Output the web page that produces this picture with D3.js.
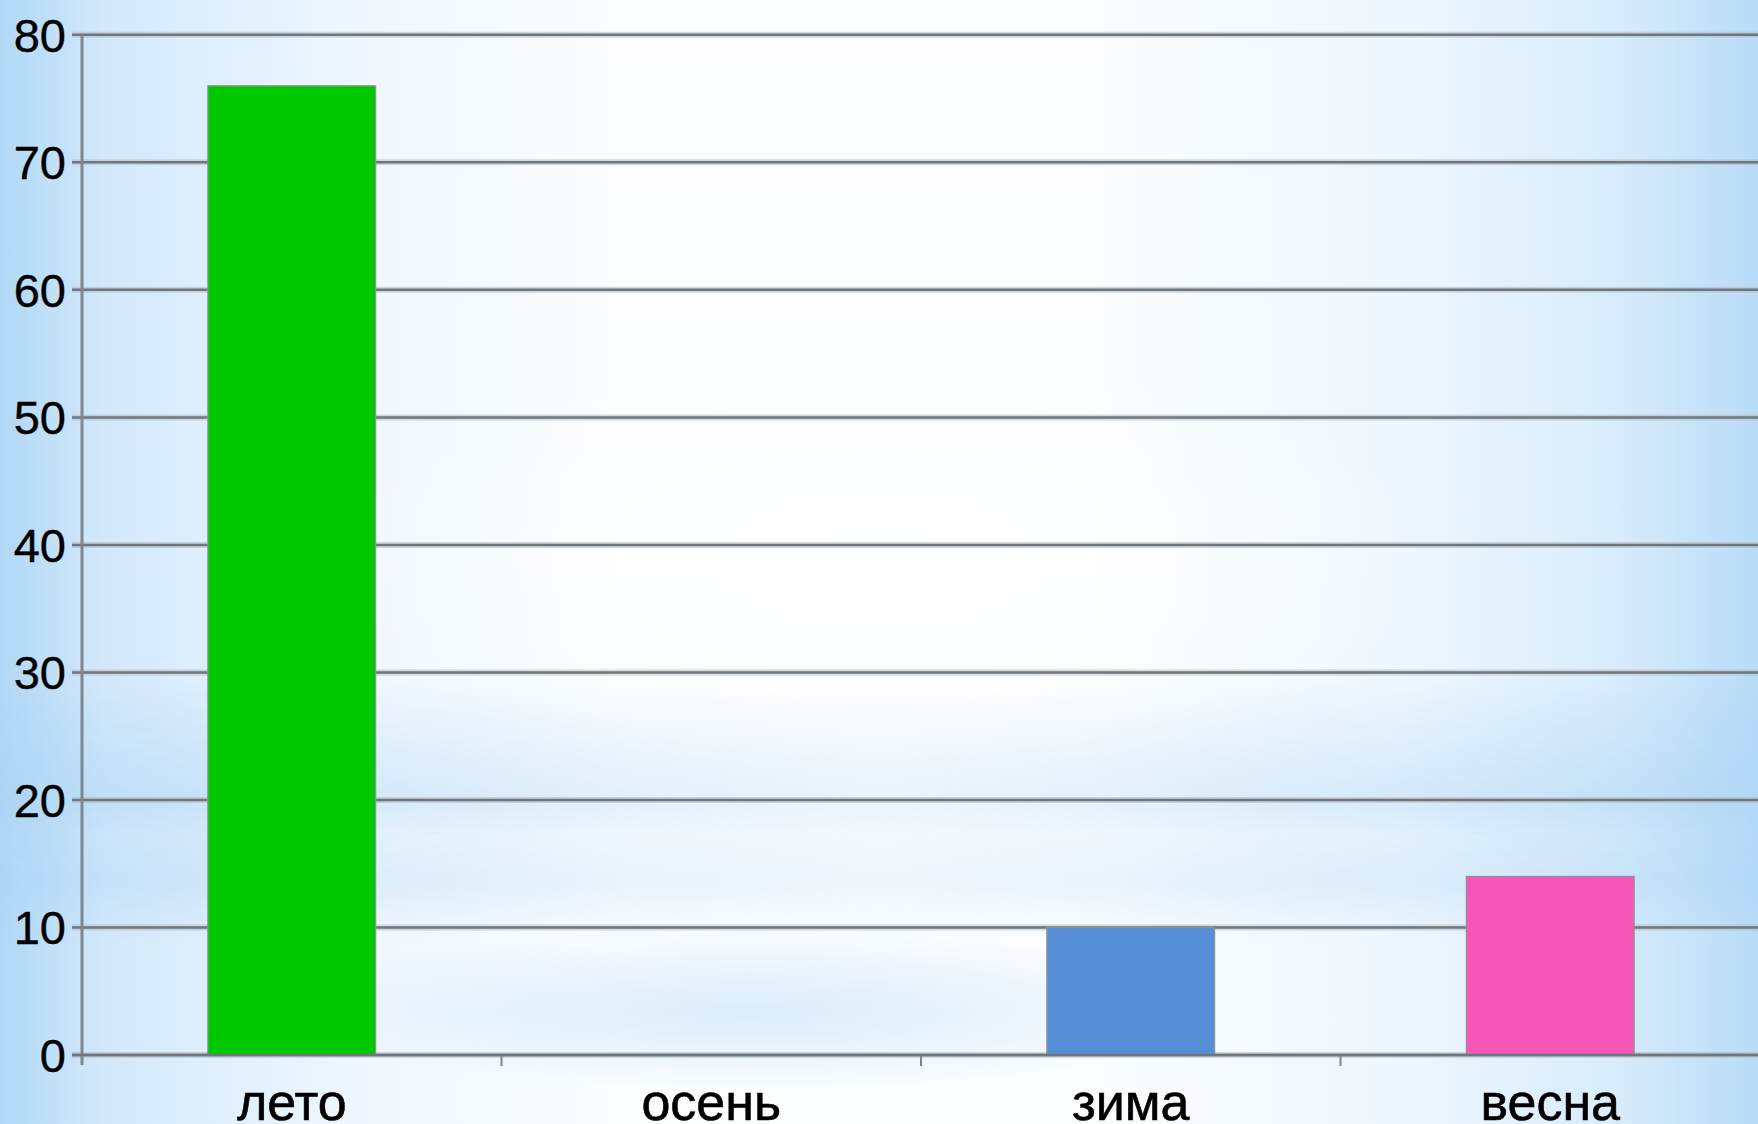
<!DOCTYPE html>
<html>
<head>
<meta charset="utf-8">
<script src="https://cdn.jsdelivr.net/npm/d3@7"></script>
<style>
  html, body { margin: 0; padding: 0; background: #ffffff; overflow: hidden; }
  svg { display: block; }
</style>
</head>
<body>
<svg id="chart" width="1758" height="1124"></svg>
<script>
// ---- data ----
const categories = ["лето", "осень", "зима", "весна"];
const values = [76, 0, 10, 14];
const barColors = ["#00c800", "#00c800", "#568ed6", "#f556b8"];
const yTicks = [0, 10, 20, 30, 40, 50, 60, 70, 80];

// ---- layout ----
const W = 1758, H = 1124;
const plot = { left: 82, right: 1760, top: 34.8, bottom: 1055 };

const svg = d3.select("#chart");
const defs = svg.append("defs");

// background gradients
const hg = defs.append("linearGradient").attr("id", "hg").attr("x1", 0).attr("x2", 1).attr("y1", 0).attr("y2", 0);
[[0, "#b0d8f6"], [0.06, "#d3e9fb"], [0.2, "#eff7fe"], [0.35, "#fbfdff"], [0.62, "#fbfdff"], [0.8, "#eef7fe"], [0.92, "#d8ecfb"], [1, "#b8dcf7"]]
  .forEach(([o, c]) => hg.append("stop").attr("offset", o).attr("stop-color", c));

const band = defs.append("linearGradient").attr("id", "band").attr("x1", 0).attr("x2", 0).attr("y1", 0).attr("y2", 1);
[[0, 0], [0.3, 0.3], [0.45, 0.42], [0.6, 0.2], [0.78, 0.3], [1, 0]]
  .forEach(([o, a]) => band.append("stop").attr("offset", o).attr("stop-color", "#a6d0f2").attr("stop-opacity", a));

const bandMaskG = defs.append("linearGradient").attr("id", "bandmaskg").attr("x1", 0).attr("x2", 1).attr("y1", 0).attr("y2", 0);
[[0, 1], [0.25, 0.85], [0.5, 0.45], [0.75, 0.8], [1, 1]]
  .forEach(([o, a]) => bandMaskG.append("stop").attr("offset", o).attr("stop-color", "#fff").attr("stop-opacity", a));
defs.append("mask").attr("id", "bandmask")
  .append("rect").attr("width", W).attr("height", H).attr("fill", "url(#bandmaskg)");

const rad = defs.append("radialGradient").attr("id", "rad");
[[0, 0.45], [0.6, 0.2], [1, 0]]
  .forEach(([o, a]) => rad.append("stop").attr("offset", o).attr("stop-color", "#b3d8f5").attr("stop-opacity", a));

const whiteRad = defs.append("radialGradient").attr("id", "wrad");
[[0, 0.9], [1, 0]]
  .forEach(([o, a]) => whiteRad.append("stop").attr("offset", o).attr("stop-color", "#ffffff").attr("stop-opacity", a));

svg.append("rect").attr("width", W).attr("height", H).attr("fill", "url(#hg)");
svg.append("rect").attr("x", 0).attr("y", 680).attr("width", W).attr("height", 260)
  .attr("fill", "url(#band)").attr("mask", "url(#bandmask)");
svg.append("ellipse").attr("cx", 750).attr("cy", 1010).attr("rx", 480).attr("ry", 80).attr("fill", "url(#rad)");
svg.append("ellipse").attr("cx", 880).attr("cy", 560).attr("rx", 560).attr("ry", 220).attr("fill", "url(#wrad)");

// ---- scales ----
const x = d3.scaleBand().domain(categories).range([plot.left, plot.right]).paddingInner(0.6).paddingOuter(0.3);
const y = d3.scaleLinear().domain([0, 80]).range([plot.bottom, plot.top]);
const xb = d3.scaleBand().domain(categories).range([plot.left, plot.right]);

// ---- gridlines ----
const grid = svg.append("g");
grid.selectAll("line.halo").data(yTicks).join("line")
  .attr("x1", plot.left - 10).attr("x2", W)
  .attr("y1", d => y(d)).attr("y2", d => y(d))
  .attr("stroke", "#b4bcc3").attr("stroke-width", 6).attr("stroke-opacity", 0.55);
grid.selectAll("line.core").data(yTicks).join("line")
  .attr("x1", plot.left - 10).attr("x2", W)
  .attr("y1", d => y(d)).attr("y2", d => y(d))
  .attr("stroke", "#6f777e").attr("stroke-width", 2.5);

// ---- y axis line ----
svg.append("line")
  .attr("x1", plot.left).attr("x2", plot.left)
  .attr("y1", y(80)).attr("y2", y(0) + 10)
  .attr("stroke", "#7f878e").attr("stroke-width", 3);

// x ticks at band boundaries
svg.append("g").selectAll("line").data(categories.slice(1)).join("line")
  .attr("x1", d => xb(d)).attr("x2", d => xb(d))
  .attr("y1", y(0)).attr("y2", y(0) + 11)
  .attr("stroke", "#7f878e").attr("stroke-width", 2);

// ---- bars ----
svg.append("g").selectAll("rect").data(categories).join("rect")
  .attr("x", d => x(d))
  .attr("y", (d, i) => y(values[i]))
  .attr("width", x.bandwidth())
  .attr("height", (d, i) => y(0) - y(values[i]))
  .attr("fill", (d, i) => barColors[i])
  .attr("stroke", "#8d9399").attr("stroke-width", 1.2)
  .attr("display", (d, i) => values[i] > 0 ? null : "none");

// redraw zero line over bars
svg.append("line")
  .attr("x1", plot.left - 10).attr("x2", W)
  .attr("y1", y(0)).attr("y2", y(0))
  .attr("stroke", "#6f777e").attr("stroke-width", 2.5);

// ---- labels ----
const font = "'Liberation Sans', Arial, sans-serif";
svg.append("g").selectAll("text").data(yTicks).join("text")
  .attr("x", plot.left - 16)
  .attr("y", d => y(d))
  .attr("dy", "0.36em")
  .attr("text-anchor", "end")
  .attr("font-family", font).attr("font-size", 47)
  .attr("fill", "#000").attr("stroke", "#000").attr("stroke-width", 0.4)
  .text(d => d);

svg.append("g").selectAll("text").data(categories).join("text")
  .attr("x", d => x(d) + x.bandwidth() / 2)
  .attr("y", 1120)
  .attr("text-anchor", "middle")
  .attr("font-family", font).attr("font-size", 52)
  .attr("fill", "#000").attr("stroke", "#000").attr("stroke-width", 0.6)
  .text(d => d);
</script>
</body>
</html>
